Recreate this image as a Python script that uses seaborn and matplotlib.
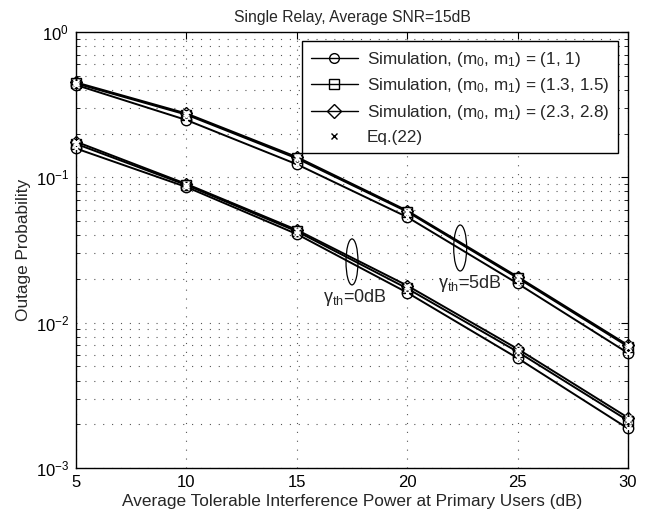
import numpy as np
import pandas as pd
import matplotlib
matplotlib.use("Agg")
import matplotlib.pyplot as plt
from matplotlib.lines import Line2D
from matplotlib.patches import Ellipse
import seaborn as sns

# ---------------- data ----------------
x_db = [5, 10, 15, 20, 25, 30]

# gamma_th = 5 dB (upper group)
sim_11_g5 = [0.432, 0.248, 0.123, 0.0533, 0.0186, 0.00618]
sim_1315_g5 = [0.443, 0.270, 0.135, 0.0580, 0.0203, 0.00685]
sim_2328_g5 = [0.450, 0.275, 0.138, 0.0590, 0.0207, 0.00700]
# gamma_th = 0 dB (lower group)
sim_11_g0 = [0.158, 0.0858, 0.0407, 0.0161, 0.0057, 0.00187]
sim_1315_g0 = [0.170, 0.0885, 0.0425, 0.0172, 0.0063, 0.00212]
sim_2328_g0 = [0.176, 0.0900, 0.0435, 0.0180, 0.0066, 0.00222]
# Eq.(22) analytical points (coincide with simulations)
eq22_sets = [sim_11_g5, sim_1315_g5, sim_2328_g5, sim_11_g0, sim_1315_g0, sim_2328_g0]

labels = [r"Simulation, (m$_0$, m$_1$) = (1, 1)",
          r"Simulation, (m$_0$, m$_1$) = (1.3, 1.5)",
          r"Simulation, (m$_0$, m$_1$) = (2.3, 2.8)",
          "Eq.(22)"]
markers = ["o", "s", "D"]
title = "Single Relay, Average SNR=15dB"
xlabel = "Average Tolerable Interference Power at Primary Users (dB)"
ylabel = "Outage Probability"

# ---------------- style ----------------
sns.set_theme(style="white")
plt.rcParams["font.family"] = ["Liberation Sans", "DejaVu Sans"]
plt.rcParams["mathtext.fontset"] = "custom"
plt.rcParams["mathtext.rm"] = "Liberation Sans"
plt.rcParams["mathtext.it"] = "Liberation Sans"
plt.rcParams["mathtext.default"] = "regular"

fig = plt.figure(figsize=(6.57, 5.14), dpi=100)
ax = fig.add_axes([76/657, 1-468/514, (628-76)/657, (468-32)/514])

rows = []
series_sets = [(sim_11_g5, sim_11_g0), (sim_1315_g5, sim_1315_g0), (sim_2328_g5, sim_2328_g0)]
for i, (g5, g0) in enumerate(series_sets):
    for g, vals in (("5", g5), ("0", g0)):
        for xv, yv in zip(x_db, vals):
            rows.append({"x": xv, "P": yv, "series": i, "group": g})
df = pd.DataFrame(rows)

msizes = [7.5, 6.5, 6.5]
for i in range(3):
    for g in ("5", "0"):
        d = df[(df.series == i) & (df.group == g)]
        sns.lineplot(data=d, x="x", y="P", ax=ax, color="black", lw=1.4,
                     marker=markers[i], markersize=msizes[i], mfc="none", mec="black",
                     mew=1.0, legend=False, estimator=None, sort=False, clip_on=False,
                     zorder=3)

eq_df = pd.DataFrame([{"x": xv, "P": yv, "k": k} for k, vals in enumerate(eq22_sets)
                      for xv, yv in zip(x_db, vals)])
for k in range(len(eq22_sets)):
    d = eq_df[eq_df.k == k]
    sns.lineplot(data=d, x="x", y="P", ax=ax, color="black", lw=0, linestyle="",
                 marker="x", markersize=5, mew=1.0, legend=False, estimator=None,
                 clip_on=False, zorder=3)

ax.set_yscale("log")
ax.set_xlim(5, 30)
ax.set_ylim(1e-3, 1)
ax.set_xticks([5, 10, 15, 20, 25, 30])
ax.set_xticklabels(["5", "10", "15", "20", "25", "30"])
ax.tick_params(axis="both", which="both", direction="in", top=True, right=True,
               labelsize=12, colors="black")
ax.tick_params(axis="both", which="major", length=5, width=0.8, pad=5)
ax.minorticks_off()
ax.yaxis.set_minor_locator(matplotlib.ticker.LogLocator(base=10, subs=np.arange(2, 10)))
ax.yaxis.set_minor_formatter(matplotlib.ticker.NullFormatter())
ax.tick_params(axis="y", which="minor", direction="in", left=True, right=True,
               length=3, width=0.6)
for s in ax.spines.values():
    s.set_color("black")
    s.set_linewidth(1.0)

grid_ls = (0, (1, 7))
ax.grid(True, which="major", axis="both", color="#555555", linestyle=grid_ls, lw=0.8)
ax.grid(True, which="minor", axis="y", color="#555555", linestyle=grid_ls, lw=0.8)

ax.set_title(title, fontsize=11.3, pad=7)
ax.set_xlabel(xlabel, fontsize=12.4, labelpad=3)
ax.set_ylabel(ylabel, fontsize=12.4, labelpad=3)

# ellipses and annotations
ax.add_patch(Ellipse((0.5, 0.4727), 0.0217, 0.1055, transform=ax.transAxes,
                     fill=False, ec="black", lw=0.9))
ax.add_patch(Ellipse((0.696, 0.5046), 0.0235, 0.1055, transform=ax.transAxes,
                     fill=False, ec="black", lw=0.9))
ax.text(0.505, 0.39, r"$\gamma_{th}$=0dB", transform=ax.transAxes, ha="center",
        va="center", fontsize=13)
ax.text(0.714, 0.424, r"$\gamma_{th}$=5dB", transform=ax.transAxes, ha="center",
        va="center", fontsize=13)

handles = [Line2D([], [], color="black", lw=1.0, marker=m, mfc="none", mec="black",
                  markersize=7) for m in ["o", "s", "D"]]
handles.append(Line2D([], [], color="black", lw=0, marker="x", markersize=5, mew=1.0))
leg = ax.legend(handles, labels, loc="upper right", bbox_to_anchor=(0.982, 0.979),
                borderaxespad=0, fontsize=12.3, frameon=True, fancybox=False,
                edgecolor="black", framealpha=1, handlelength=2.75, handletextpad=0.55,
                borderpad=0.5, labelspacing=0.45)
leg.get_frame().set_linewidth(1.0)
leg.set_zorder(5)

fig.savefig("out.png", dpi=100)
